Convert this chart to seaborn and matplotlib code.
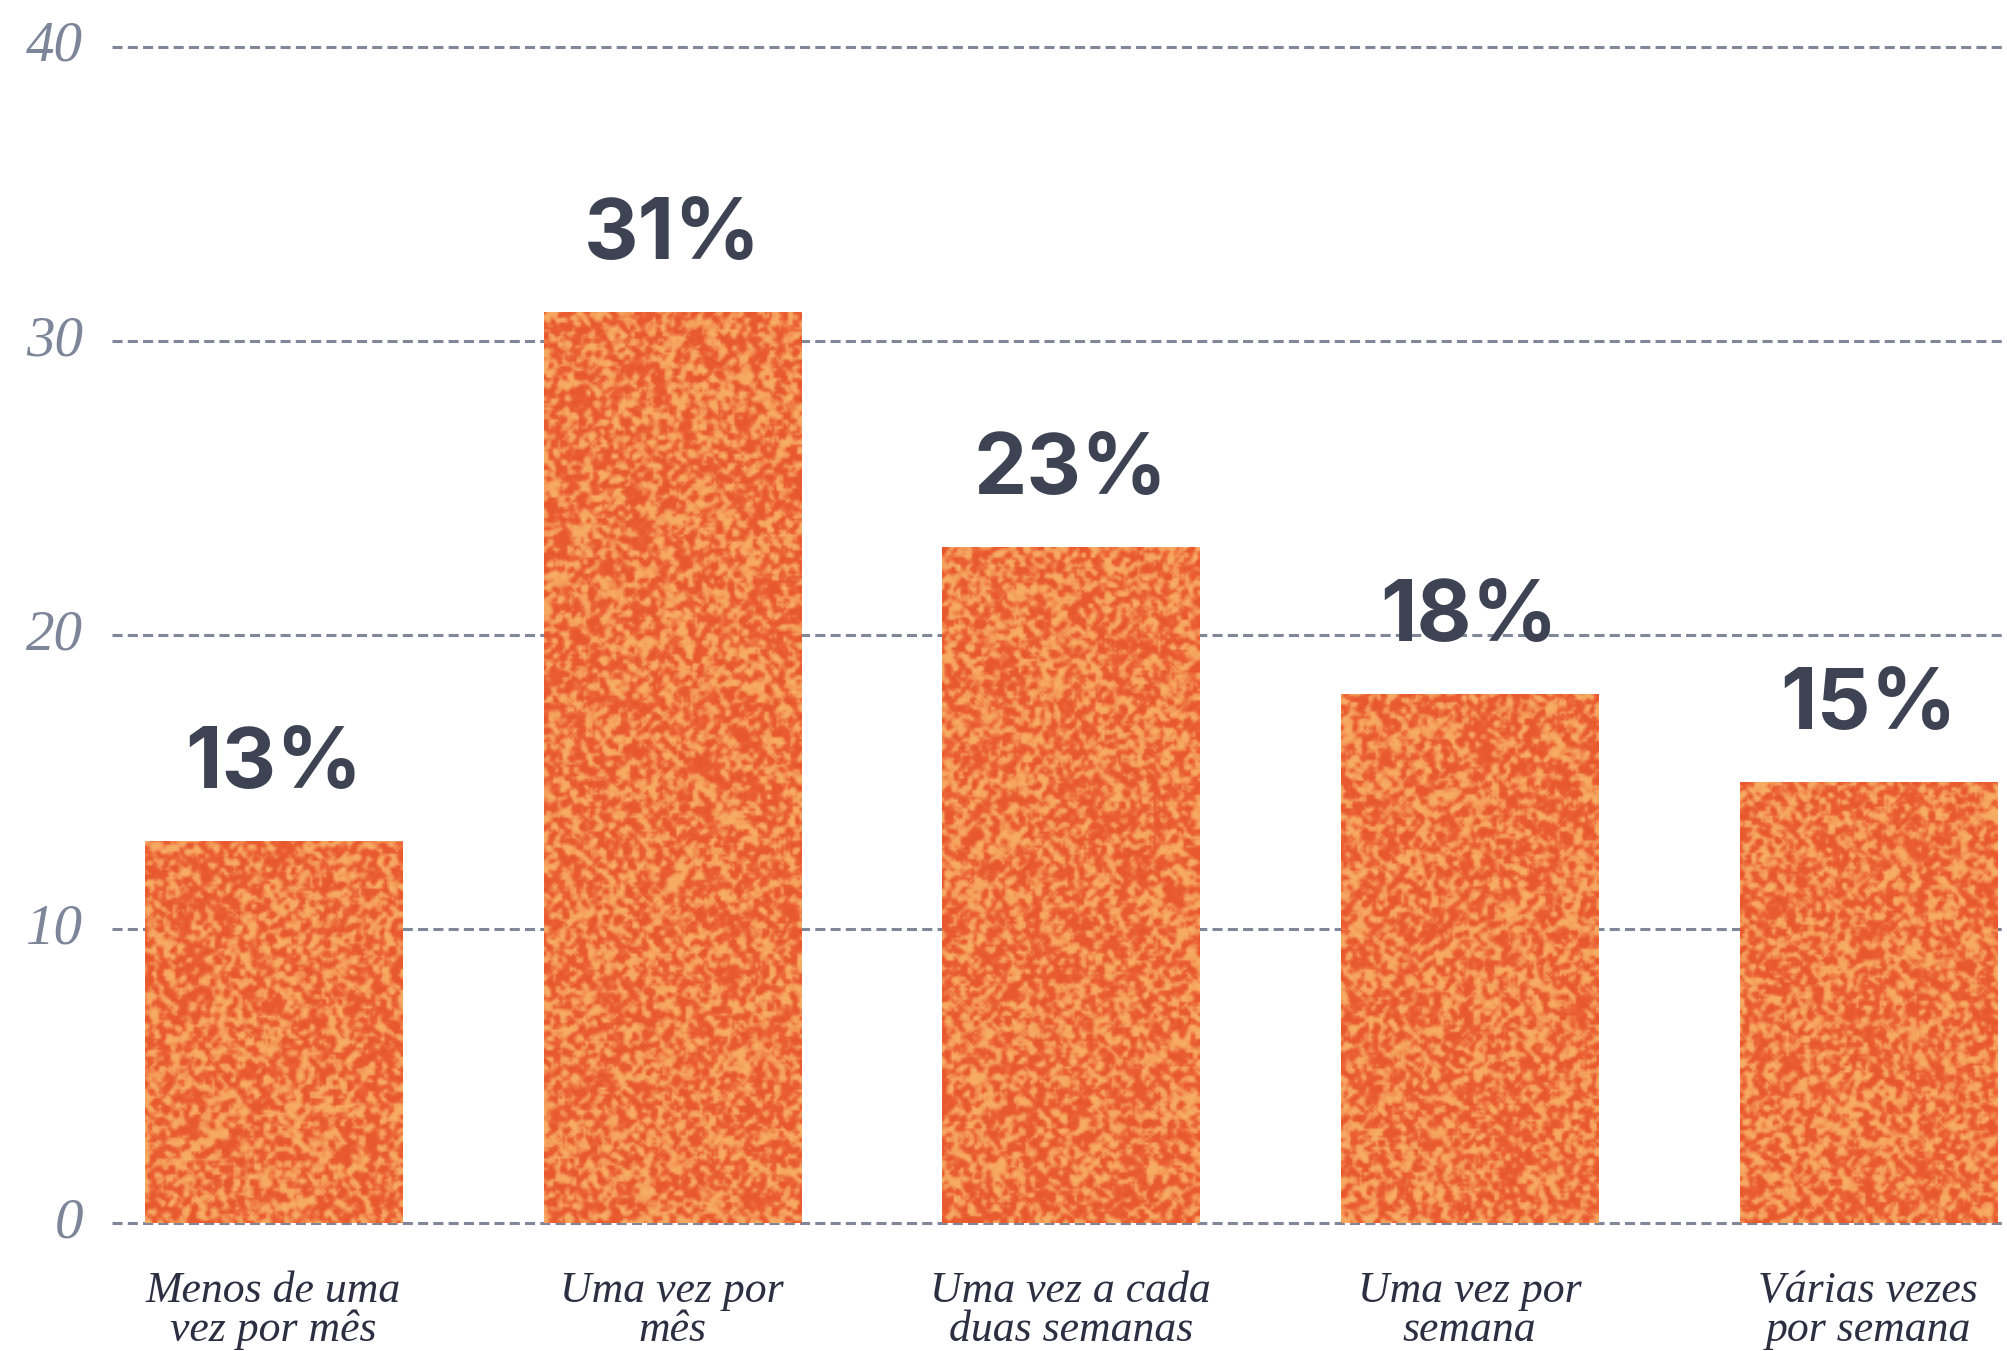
import numpy as np
import matplotlib
matplotlib.use("Agg")
import matplotlib.pyplot as plt
from matplotlib.colors import LinearSegmentedColormap
import seaborn as sns

# Frequency categories and share of respondents (%)
categories = [
    "Menos de uma vez por mês",
    "Uma vez por mês",
    "Uma vez a cada duas semanas",
    "Uma vez por semana",
    "Várias vezes por semana",
]
tick_labels = [
    "Menos de uma\nvez por mês",
    "Uma vez por\nmês",
    "Uma vez a cada\nduas semanas",
    "Uma vez por\nsemana",
    "Várias vezes\npor semana",
]
values = [13, 31, 23, 18, 15]
value_labels = ["13%", "31%", "23%", "18%", "15%"]
y_ticks = [0, 10, 20, 30, 40]

sns.set_theme(style="white")
plt.rcParams["font.family"] = ["DejaVu Sans"]

fig = plt.figure(figsize=(20.08, 13.51), dpi=100)
ax = fig.add_axes([0.0558, 0.0836, 0.9442, 0.8925])

sns.barplot(x=categories, y=values, color="#ef7340", width=0.645,
            saturation=1, ax=ax, zorder=3, linewidth=0)

# speckled orange fill clipped to each bar
rng = np.random.default_rng(11)
tex_cmap = LinearSegmentedColormap.from_list(
    "speckle", ["#e8582d", "#ec6336", "#f1844a", "#f49c5a", "#f7ad64"])


def blur(a, n=1):
    for _ in range(n):
        p = np.pad(a, 1, mode="edge")
        a = (p[:-2, :-2] + p[:-2, 1:-1] + p[:-2, 2:] +
             p[1:-1, :-2] + 2 * p[1:-1, 1:-1] + p[1:-1, 2:] +
             p[2:, :-2] + p[2:, 1:-1] + p[2:, 2:]) / 10.0
    return a


px_per_unit = 0.8925 * 1351 / 41.0
cell = 2.3
for patch in list(ax.patches):
    x0, y0 = patch.get_x(), patch.get_y()
    w, h = patch.get_width(), patch.get_height()
    if h <= 0:
        continue
    ny = max(4, int(h * px_per_unit / cell))
    nx = int(257 / cell)
    noise = blur(rng.normal(size=(ny, nx)), 1)
    noise = (noise - noise.mean()) / noise.std()
    field = 1.0 / (1.0 + np.exp(-2.0 * (noise - 0.2)))
    im = ax.imshow(field, extent=[x0, x0 + w, y0, y0 + h], aspect="auto",
                   cmap=tex_cmap, vmin=0, vmax=1, interpolation="bilinear",
                   zorder=4, origin="lower")
    im.set_clip_path(patch)

# value labels above bars
for i, (v, lab) in enumerate(zip(values, value_labels)):
    ax.annotate(lab, xy=(i, v), xytext=(0, 38), textcoords="offset points",
                ha="center", va="baseline", fontsize=61, fontweight="bold",
                family=["Inter", "DejaVu Sans"], color="#3e4354", zorder=5)

ax.set_xlim(-0.405, 4.351)
ax.set_ylim(-0.5, 40.5)

ax.set_yticks(y_ticks)
ax.set_yticklabels([str(t) for t in y_ticks], fontsize=41, fontstyle="italic",
                   family=["Liberation Serif", "DejaVu Serif"], color="#7d8599")
for t in ax.get_yticklabels():
    t.set_verticalalignment("center")

ax.set_xticks(range(len(categories)))
ax.set_xticklabels(tick_labels, fontsize=31.5, fontstyle="italic",
                   family=["Liberation Serif", "DejaVu Serif"], color="#2c2f42",
                   linespacing=0.95)
ax.tick_params(axis="y", length=0, pad=21)
ax.tick_params(axis="x", length=0, pad=24)

ax.yaxis.grid(True, color="#7f8799", linewidth=2.2, linestyle=(0, (3.3, 1.7)))
ax.xaxis.grid(False)
ax.set_axisbelow(True)
for s in ax.spines.values():
    s.set_visible(False)
ax.set_xlabel("")
ax.set_ylabel("")
ax.set_facecolor("white")
fig.patch.set_facecolor("white")

fig.savefig("out.png", dpi=100)
